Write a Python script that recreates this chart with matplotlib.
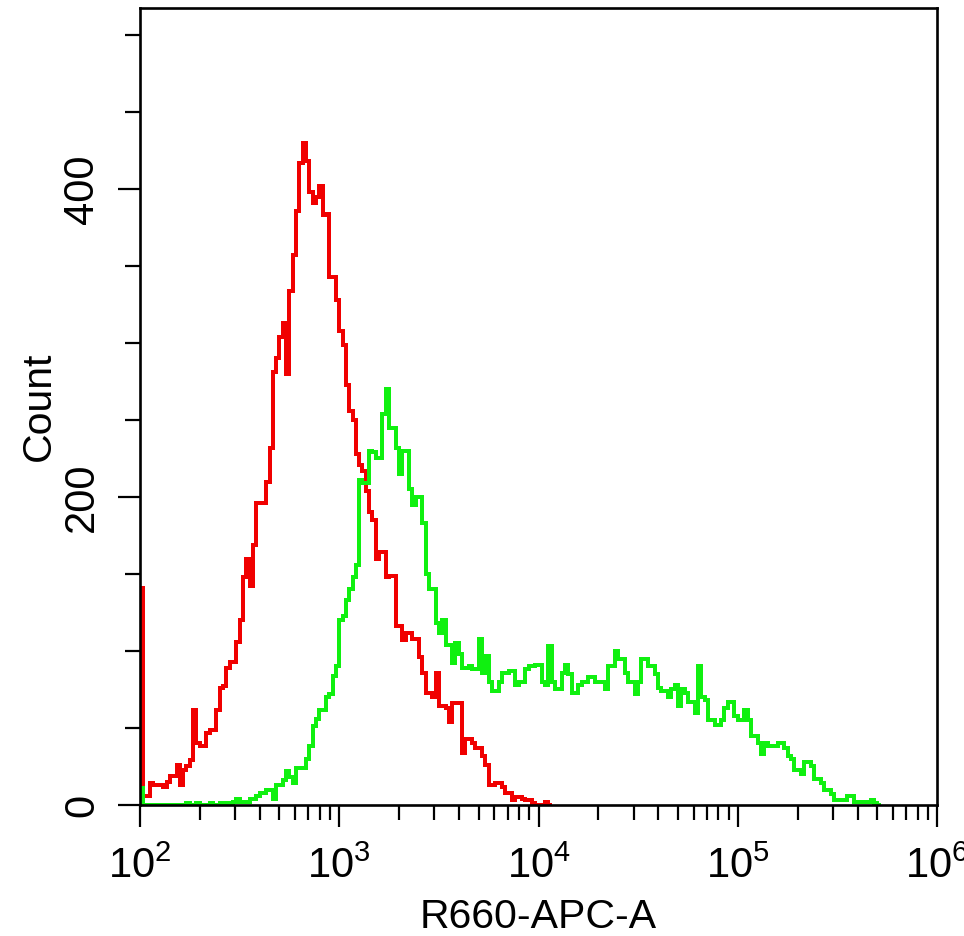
import numpy as np
import matplotlib
matplotlib.use("Agg")
import matplotlib.pyplot as plt
from matplotlib.ticker import MultipleLocator, LogLocator, NullFormatter, LogFormatterSciNotation

plt.rcParams['font.family'] = ['Liberation Sans', 'DejaVu Sans']
plt.rcParams['mathtext.default'] = 'regular'

# histogram: 60 log bins per decade starting at 10^2
bins_per_decade = 60
x_min_exp, x_max_exp = 2, 6

# counts per bin (R660-APC-A)
red_counts = [
    141, 6, 6, 14, 13, 13, 13, 12, 15, 19,
    19, 26, 13, 23, 25, 29, 62, 40, 38, 38,
    47, 49, 49, 62, 76, 77, 89, 93, 93, 106,
    120, 148, 160, 142, 169, 196, 196, 196, 210, 232,
    281, 290, 304, 313, 280, 334, 357, 386, 417, 430,
    418, 398, 391, 395, 402, 383, 384, 343, 343, 328,
    308, 299, 273, 256, 250, 228, 221, 217, 204, 190,
    185, 160, 164, 164, 148, 149, 149, 116, 116, 107,
    112, 112, 108, 108, 96, 86, 73, 73, 70, 86,
    64, 64, 63, 54, 66, 66, 66, 34, 43, 43,
    40, 37, 37, 32, 26, 13, 13, 14, 14, 12,
    8, 8, 3, 5, 5, 4, 3, 3, 1, 0,
    0, 0, 2, 0,
]

green_counts = [
    11, 0, 0, 0, 0, 0, 0, 0, 0, 0,
    0, 0, 0, 0, 1, 0, 0, 1, 0, 0,
    0, 1, 0, 0, 1, 1, 0, 1, 2, 4,
    2, 2, 2, 4, 4, 6, 8, 8, 10, 10,
    4, 13, 13, 16, 22, 18, 14, 24, 24, 24,
    30, 38, 51, 56, 62, 62, 70, 72, 84, 90,
    120, 123, 133, 140, 148, 156, 211, 209, 209, 230,
    229, 225, 225, 254, 270, 245, 245, 232, 215, 230,
    230, 205, 195, 200, 200, 183, 150, 140, 140, 118,
    112, 120, 104, 104, 92, 105, 98, 89, 89, 90,
    88, 88, 108, 86, 97, 80, 74, 74, 80, 86,
    86, 87, 87, 78, 80, 80, 88, 90, 90, 91,
    91, 80, 78, 103, 80, 75, 75, 86, 91, 85,
    73, 73, 78, 80, 80, 83, 83, 80, 80, 80,
    75, 90, 90, 100, 95, 95, 86, 80, 80, 72,
    80, 95, 95, 90, 90, 85, 76, 74, 74, 70,
    75, 78, 64, 75, 73, 67, 67, 60, 90, 70,
    68, 55, 55, 52, 52, 55, 63, 67, 67, 58,
    55, 55, 62, 55, 45, 45, 40, 33, 40, 38,
    38, 38, 40, 40, 37, 32, 30, 23, 23, 20,
    28, 28, 25, 17, 17, 14, 10, 10, 7, 3,
    3, 3, 3, 6, 6, 2, 2, 2, 2, 2,
    3, 1, 0,
]

y_major = [0, 200, 400]
x_label = "R660-APC-A"
y_label = "Count"

n_bins = (x_max_exp - x_min_exp) * bins_per_decade
edges = np.logspace(x_min_exp, x_max_exp, n_bins + 1)

W, H = 964, 936
fig = plt.figure(figsize=(W / 100, H / 100), dpi=100)
ax = fig.add_axes([140 / W, 131 / H, 797 / W, 797 / H])

ax.stairs(red_counts, edges[:len(red_counts) + 1], baseline=0,
          color='#f00000', linewidth=1.5, antialiased=False)
ax.stairs(green_counts, edges[:len(green_counts) + 1], baseline=0,
          color='#10f010', linewidth=1.5, antialiased=False)

ax.set_xscale('log')
ax.set_xlim(10 ** x_min_exp, 10 ** x_max_exp)
ax.set_ylim(0, 517.5)

ax.xaxis.set_major_locator(LogLocator(base=10, numticks=10))
ax.xaxis.set_minor_locator(LogLocator(base=10, subs=np.arange(2, 10), numticks=20))
ax.xaxis.set_major_formatter(LogFormatterSciNotation())
ax.xaxis.set_minor_formatter(NullFormatter())

ax.set_yticks(y_major)
ax.yaxis.set_minor_locator(MultipleLocator(50))

for sp in ax.spines.values():
    sp.set_linewidth(1.9)
    sp.set_color('black')

ax.tick_params(which='major', direction='out', length=16, width=1.6,
               labelsize=30, colors='black')
ax.tick_params(which='minor', direction='out', length=11, width=1.6)
ax.tick_params(axis='y', which='major', labelrotation=90)
for lab in ax.get_yticklabels():
    lab.set_va('center')

ax.set_xlabel(x_label, fontsize=29.5)
ax.xaxis.set_label_coords(0.5, -(928 - 805) / 797)
ax.xaxis.label.set_va('baseline')

ax.set_ylabel(y_label, fontsize=29.5)
ax.yaxis.set_label_coords((50 - 140) / 797, 0.5)
ax.yaxis.label.set_va('baseline')

# nudge tick label pads so the labels sit where they do in the picture
# (targets are text box edges in pixels from the top-left corner)
x_box_bottom, y_box_right = 887, 102
xpad, ypad = 8.0, 6.0
for _ in range(3):
    ax.tick_params(axis='x', which='major', pad=xpad)
    ax.tick_params(axis='y', which='major', pad=ypad)
    fig.canvas.draw()
    r = fig.canvas.get_renderer()
    bx = ax.get_xticklabels()[1].get_window_extent(r)
    by = ax.get_yticklabels()[1].get_window_extent(r)
    xpad += (bx.y0 - (H - x_box_bottom)) * 72 / 100
    ypad += (by.x1 - y_box_right) * 72 / 100
ax.tick_params(axis='x', which='major', pad=xpad)
ax.tick_params(axis='y', which='major', pad=ypad)

fig.savefig("out.png", dpi=100)
